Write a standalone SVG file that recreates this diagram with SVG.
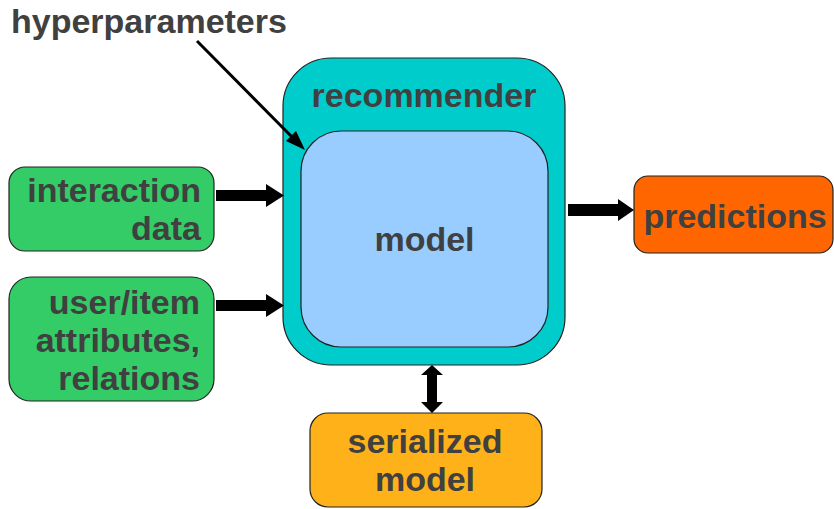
<svg xmlns="http://www.w3.org/2000/svg" width="834" height="509" viewBox="0 0 834 509">
<style>
.box{stroke:#222;stroke-width:1.2}
.t{font-family:"Liberation Sans",Arial,sans-serif;font-weight:bold;font-size:34px;fill:#404040}
.arr{fill:#000}
</style>
<rect width="834" height="509" fill="#fff"/>
<g id="recommender">
<rect class="box" x="283" y="58" width="282" height="307" rx="48" fill="#00cccc"/>
<text class="t" x="424" y="107" text-anchor="middle">recommender</text>
</g>
<g id="model">
<rect class="box" x="301" y="131" width="247" height="216" rx="40" fill="#99ccff"/>
<text class="t" x="424.5" y="251" text-anchor="middle">model</text>
</g>
<g id="interaction-data">
<rect class="box" x="9" y="167" width="205" height="84" rx="16" fill="#33cc66"/>
<text class="t" x="201" y="202" text-anchor="end">interaction</text>
<text class="t" x="201" y="240" text-anchor="end">data</text>
</g>
<g id="user-item-attributes">
<rect class="box" x="9" y="277" width="205" height="124" rx="22" fill="#33cc66"/>
<text class="t" x="200" y="314" text-anchor="end">user/item</text>
<text class="t" x="200" y="352" text-anchor="end">attributes,</text>
<text class="t" x="200" y="390" text-anchor="end">relations</text>
</g>
<g id="predictions">
<rect class="box" x="634" y="176" width="199" height="77" rx="14" fill="#ff6600"/>
<text class="t" x="735" y="228" text-anchor="middle">predictions</text>
</g>
<g id="serialized-model">
<rect class="box" x="310" y="413" width="232" height="94" rx="18" fill="#ffb119"/>
<text class="t" x="425" y="453" text-anchor="middle">serialized</text>
<text class="t" x="425" y="491" text-anchor="middle">model</text>
</g>
<g id="hyperparameters">
<text class="t" x="11" y="33">hyperparameters</text>
</g>
<g id="connectors">
<path class="arr" d="M216,190 L266,190 L266,184 L284,195.5 L266,207 L266,201 L216,201 z"/>
<path class="arr" d="M216,300 L266,300 L266,294 L284,305.5 L266,317 L266,311 L216,311 z"/>
<path class="arr" d="M568,204 L618,204 L618,199 L634,210 L618,221 L618,216 L568,216 z"/>
<path class="arr" d="M432,365 L443,375 L437,375 L437,402 L443,402 L432,413 L421,402 L427,402 L427,375 L421,375 z"/>
<line x1="197" y1="41" x2="293" y2="138" stroke="#000" stroke-width="3"/>
<path class="arr" d="M305,150 L286,141 L296,131 z"/>
</g>
</svg>
